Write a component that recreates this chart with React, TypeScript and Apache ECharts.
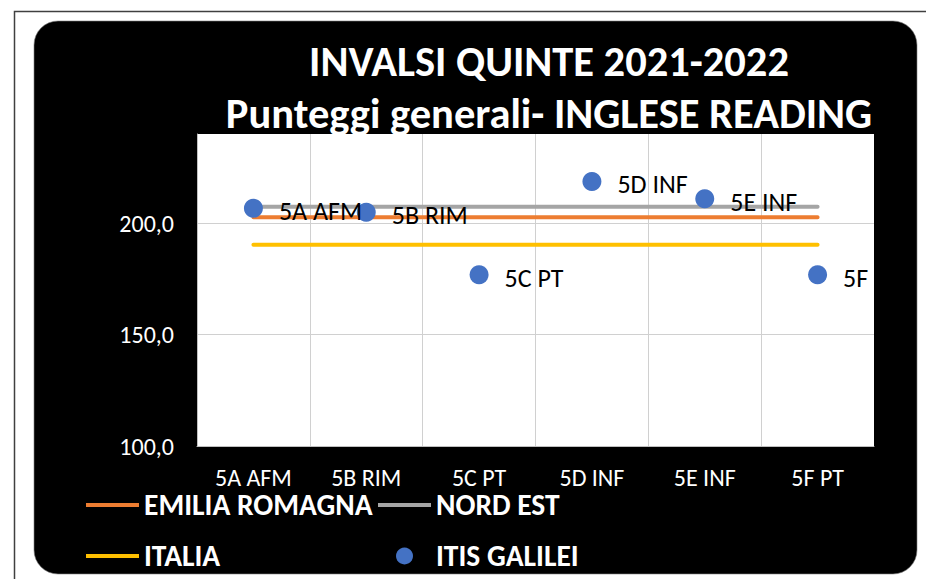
import React, { useEffect, useRef } from "react";
import * as echarts from "echarts";

const categories = ["5A AFM", "5B RIM", "5C PT", "5D INF", "5E INF", "5F PT"];
const pointLabels = ["5A AFM", "5B RIM", "5C PT", "5D INF", "5E INF", "5F"];
const itisGalilei = [206.7, 204.9, 176.8, 218.7, 210.9, 176.8];
const emiliaRomagna = [202.7, 202.7, 202.7, 202.7, 202.7, 202.7];
const nordEst = [207.4, 207.4, 207.4, 207.4, 207.4, 207.4];
const italia = [190.3, 190.3, 190.3, 190.3, 190.3, 190.3];
const titleLines = ["INVALSI QUINTE 2021-2022", "Punteggi generali- INGLESE READING"];

const FONT = "Carlito, Lato, sans-serif";
const LINE_ICON = "path://M0,0H53V4H0Z";

export default function App() {
  const ref = useRef<HTMLDivElement>(null);
  useEffect(() => {
    if (!ref.current) return;
    const chart = echarts.init(ref.current, undefined, { renderer: "svg" });
    const legendText = { color: "#fff", fontSize: 29.5, fontWeight: "bold", fontFamily: FONT, lineHeight: 26 };
    chart.setOption({
      animation: false,
      backgroundColor: "#fff",
      graphic: {
        elements: [
          {
            type: "rect",
            z: -20,
            silent: true,
            shape: { x: 14.5, y: 11.5, width: 940, height: 600 },
            style: { fill: "none", stroke: "#404040", lineWidth: 1.5 },
          },
          {
            type: "rect",
            z: -10,
            silent: true,
            shape: { x: 34, y: 21, width: 883, height: 553, r: 24 },
            style: { fill: "#000", stroke: "#7f7f7f", lineWidth: 0.6 },
          },
        ],
      },
      title: [
        {
          text: titleLines[0],
          left: 549,
          top: 39,
          padding: 0,
          textAlign: "center",
          textStyle: { color: "#fff", fontSize: 42.5, fontWeight: "bold", fontFamily: FONT, lineHeight: 44 },
        },
        {
          text: titleLines[1],
          left: 549,
          top: 91,
          padding: 0,
          textAlign: "center",
          textStyle: { color: "#fff", fontSize: 42.5, fontWeight: "bold", fontFamily: FONT, lineHeight: 44 },
        },
      ],
      grid: {
        left: 197,
        right: 52,
        top: 134,
        bottom: 133,
        show: true,
        backgroundColor: "#fff",
        borderWidth: 0,
      },
      legend: [
        {
          orient: "vertical",
          left: 86,
          top: 490,
          padding: 0,
          itemWidth: 53,
          itemHeight: 17,
          itemGap: 21,
          textStyle: legendText,
          data: [
            { name: "EMILIA ROMAGNA", icon: LINE_ICON },
            { name: "ITALIA", icon: LINE_ICON },
          ],
        },
        {
          orient: "vertical",
          left: 378,
          top: 490,
          padding: 0,
          itemWidth: 53,
          itemHeight: 17,
          itemGap: 21,
          textStyle: legendText,
          data: [
            { name: "NORD EST", icon: LINE_ICON },
            { name: "ITIS GALILEI", icon: "circle" },
          ],
        },
      ],
      xAxis: {
        type: "category",
        data: categories,
        boundaryGap: true,
        axisLine: { show: true, lineStyle: { color: "#bfbfbf", width: 1 } },
        axisTick: { show: false },
        axisLabel: { color: "#fff", fontSize: 24, lineHeight: 22, fontFamily: FONT, margin: 20 },
        splitLine: { show: true, showMaxLine: false, lineStyle: { color: "#d0d0d0", width: 1 } },
      },
      yAxis: {
        type: "value",
        min: 100,
        max: 240,
        interval: 50,
        axisLine: { show: true, lineStyle: { color: "#bfbfbf", width: 1 } },
        axisTick: { show: false },
        axisLabel: {
          color: "#fff",
          fontSize: 24,
          fontFamily: FONT,
          margin: 23,
          showMaxLabel: false,
          formatter: (v: number) => v.toFixed(1).replace(".", ","),
        },
        splitLine: { show: true, showMaxLine: false, lineStyle: { color: "#d0d0d0", width: 1 } },
      },
      series: [
        {
          name: "EMILIA ROMAGNA",
          type: "line",
          data: emiliaRomagna,
          symbol: "none",
          color: "#ED7D31",
          lineStyle: { color: "#ED7D31", width: 4, cap: "round" },
          z: 2,
        },
        {
          name: "NORD EST",
          type: "line",
          data: nordEst,
          symbol: "none",
          color: "#A5A5A5",
          lineStyle: { color: "#A5A5A5", width: 4, cap: "round" },
          z: 2,
        },
        {
          name: "ITALIA",
          type: "line",
          data: italia,
          symbol: "none",
          color: "#FFC000",
          lineStyle: { color: "#FFC000", width: 4, cap: "round" },
          z: 2,
        },
        {
          name: "ITIS GALILEI",
          type: "scatter",
          data: itisGalilei,
          symbol: "circle",
          symbolSize: 19,
          color: "#4472C4",
          itemStyle: { color: "#4472C4", opacity: 1 },
          z: 3,
          label: {
            show: true,
            position: "right",
            distance: 16,
            offset: [0, 3],
            color: "#000",
            fontSize: 26,
            fontFamily: FONT,
            formatter: (p: any) => pointLabels[p.dataIndex],
          },
        },
      ],
    });
    return () => chart.dispose();
  }, []);
  return (
    <div
      ref={ref}
      style={{ position: "fixed", left: 0, top: 0, width: 926, height: 579 }}
    />
  );
}
